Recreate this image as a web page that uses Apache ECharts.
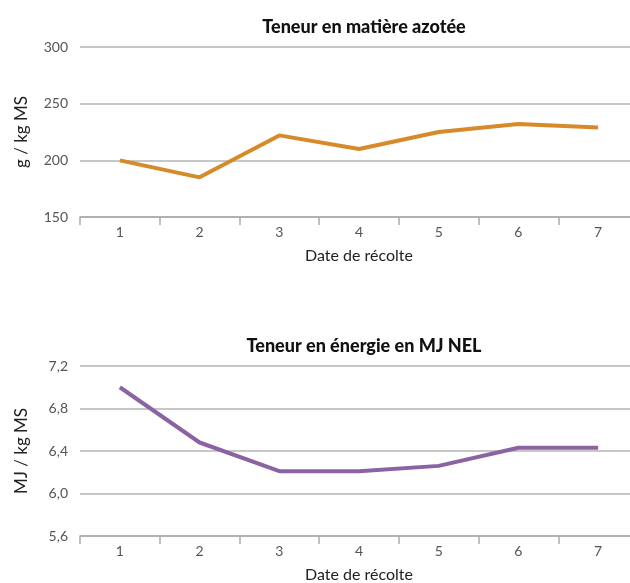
<!DOCTYPE html>
<html>
<head>
<meta charset="utf-8">
<script src="https://cdn.jsdelivr.net/npm/echarts@6/dist/echarts.min.js"></script>
<style>
	html, body { margin: 0; padding: 0; background: #fff; }
	#main { width: 630px; height: 583px; }
</style>
</head>
<body>
<div id="main"></div>
<script>
//横坐标：收获日期
var categories = ['1', '2', '3', '4', '5', '6', '7'];
//含氮量 g/kg MS
var azoteValues = [200, 185, 222, 210, 225, 232, 229];
//能量 MJ NEL
var energieValues = [7.0, 6.48, 6.21, 6.21, 6.26, 6.43, 6.43];
//标题
var titles = ['Teneur en matière azotée', 'Teneur en énergie en MJ NEL'];
var yNames = ['g / kg MS', 'MJ / kg MS'];
var xName = 'Date de récolte';

var fontName = 'Lato';
var labelColor = '#555';
var gridColor = '#b4b4b4';

function makeXAxis(idx) {
	return {
		gridIndex: idx,
		type: 'category',
		data: categories,
		boundaryGap: true,
		name: xName,
		nameLocation: 'middle',
		nameGap: 31,
		nameTextStyle: { fontFamily: fontName, fontSize: 16, color: '#222' },
		axisLine: { lineStyle: { color: '#aaa', width: 1.5 } },
		axisTick: { show: true, length: 8, lineStyle: { color: '#aaa', width: 1.5 } },
		axisLabel: { fontFamily: fontName, fontSize: 14, color: labelColor, margin: 8 }
	};
}

function makeYAxis(idx, min, max, interval, formatter) {
	return {
		gridIndex: idx,
		type: 'value',
		min: min,
		max: max,
		interval: interval,
		name: yNames[idx],
		nameLocation: 'middle',
		nameRotate: 90,
		nameGap: 50,
		nameTextStyle: { fontFamily: fontName, fontSize: 17, color: '#222' },
		axisLine: { show: false },
		axisTick: { show: false },
		axisLabel: { fontFamily: fontName, fontSize: 14, color: labelColor, margin: 12, formatter: formatter },
		splitLine: { lineStyle: { color: gridColor, width: 1.5 } }
	};
}

var chart = echarts.init(document.getElementById('main'));
var option = {
	animation: false,
	title: [{
		text: titles[0],
		left: 359,
		top: 13,
		textAlign: 'center',
		textStyle: { fontFamily: fontName, fontWeight: 900, fontSize: 18, color: '#111' }
	}, {
		text: titles[1],
		left: 359,
		top: 332,
		textAlign: 'center',
		textStyle: { fontFamily: fontName, fontWeight: 900, fontSize: 18, color: '#111' }
	}],
	grid: [
		{ left: 80, top: 47, width: 558, height: 170, outerBoundsMode: 'none' },
		{ left: 80, top: 366, width: 558, height: 170, outerBoundsMode: 'none' }
	],
	xAxis: [makeXAxis(0), makeXAxis(1)],
	yAxis: [
		makeYAxis(0, 150, 300, 50),
		makeYAxis(1, 5.6, 7.2, 0.4, function(v) {
			return v.toFixed(1).replace('.', ',');
		})
	],
	series: [{
		type: 'line',
		xAxisIndex: 0,
		yAxisIndex: 0,
		data: azoteValues,
		symbol: 'none',
		lineStyle: { color: '#d68a2a', width: 4 }
	}, {
		type: 'line',
		xAxisIndex: 1,
		yAxisIndex: 1,
		data: energieValues,
		symbol: 'none',
		lineStyle: { color: '#8b63a3', width: 4 }
	}]
};
chart.setOption(option);
</script>
</body>
</html>
